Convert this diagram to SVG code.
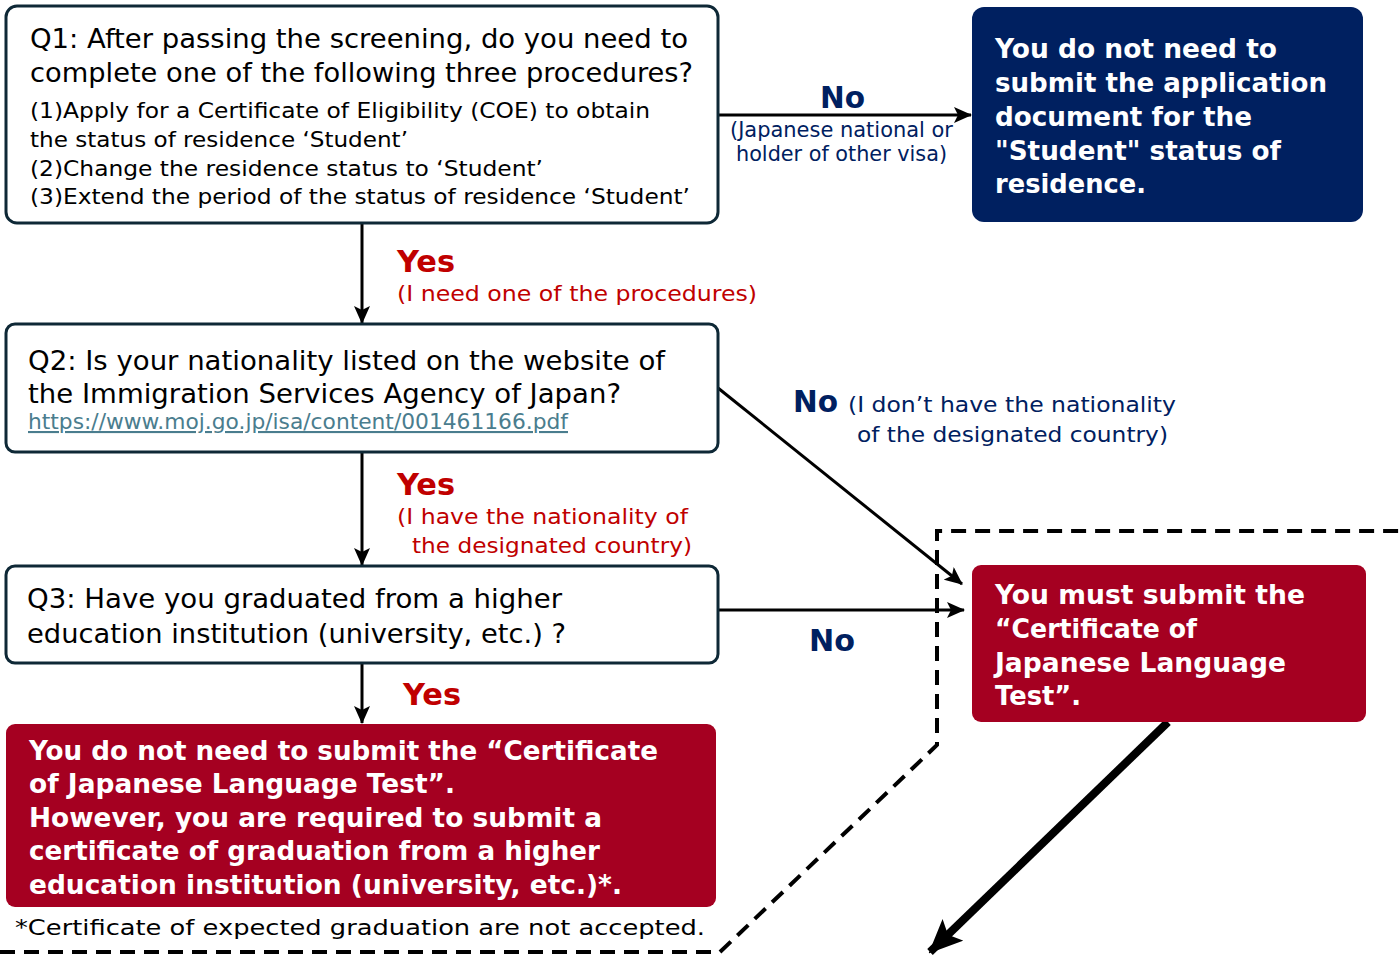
<svg xmlns="http://www.w3.org/2000/svg" width="1400" height="955" viewBox="0 0 1400 955">
<style>
text{font-family:"DejaVu Sans","Liberation Sans",sans-serif}
.q{fill:#fff;stroke:#0e2836;stroke-width:3}
.qt{font-size:27px;fill:#000}
.st{font-size:22px;fill:#000}
.wb{font-size:27px;font-weight:bold;fill:#fff}
.yes{font-size:30px;font-weight:bold;fill:#c00000}
.red{font-size:22px;fill:#c00000}
.no{font-size:30px;font-weight:bold;fill:#002060}
.nav{font-size:22px;fill:#002060}
.ln{stroke:#000;stroke-width:3;fill:none}
</style>
<defs>
<marker id="ah" markerUnits="userSpaceOnUse" markerWidth="18" markerHeight="16" refX="17" refY="8" orient="auto"><path d="M0,0 L18,8 L0,16 L4,8 Z" fill="#000"/></marker>
<marker id="ahb" markerUnits="userSpaceOnUse" markerWidth="34" markerHeight="30" refX="32" refY="15" orient="auto"><path d="M0,0 L34,15 L0,30 L7,15 Z" fill="#000"/></marker>
</defs>

<g id="connectors">
<line class="ln" x1="718" y1="115" x2="971" y2="115" marker-end="url(#ah)"/>
<line class="ln" x1="362" y1="224" x2="362" y2="323" marker-end="url(#ah)"/>
<line class="ln" x1="362" y1="453" x2="362" y2="565" marker-end="url(#ah)"/>
<line class="ln" x1="718" y1="388" x2="962" y2="584" marker-end="url(#ah)"/>
<line class="ln" x1="718" y1="610" x2="964" y2="610" marker-end="url(#ah)"/>
<line class="ln" x1="362" y1="664" x2="362" y2="723" marker-end="url(#ah)"/>
<line stroke="#000" stroke-width="8" x1="1168" y1="722" x2="930" y2="952" marker-end="url(#ahb)"/>
<path d="M0,952 L720,952 L937,745 L937,531 L1400,531" fill="none" stroke="#000" stroke-width="4" stroke-dasharray="15 9"/>
</g>

<g id="labels">
<text class="no" x="820" y="108" textLength="45" lengthAdjust="spacingAndGlyphs">No</text>
<text class="nav" x="730" y="137" textLength="223" lengthAdjust="spacingAndGlyphs">(Japanese national or</text>
<text class="nav" x="736" y="161" textLength="211" lengthAdjust="spacingAndGlyphs">holder of other visa)</text>
<text class="yes" x="397" y="272" textLength="58" lengthAdjust="spacingAndGlyphs">Yes</text>
<text class="red" x="397" y="301" textLength="360" lengthAdjust="spacingAndGlyphs">(I need one of the procedures)</text>
<text class="yes" x="397" y="495" textLength="58" lengthAdjust="spacingAndGlyphs">Yes</text>
<text class="red" x="397" y="524" textLength="291" lengthAdjust="spacingAndGlyphs">(I have the nationality of</text>
<text class="red" x="412" y="553" textLength="280" lengthAdjust="spacingAndGlyphs">the designated country)</text>
<text class="no" x="793" y="412" textLength="45" lengthAdjust="spacingAndGlyphs">No</text>
<text class="nav" x="848" y="412" textLength="328" lengthAdjust="spacingAndGlyphs">(I don’t have the nationality</text>
<text class="nav" x="857" y="442" textLength="311" lengthAdjust="spacingAndGlyphs">of the designated country)</text>
<text class="no" x="809" y="651" textLength="46" lengthAdjust="spacingAndGlyphs">No</text>
<text class="yes" x="403" y="705" textLength="58" lengthAdjust="spacingAndGlyphs">Yes</text>
</g>

<g id="q1">
<rect class="q" x="6" y="6" width="712" height="217" rx="11"/>
<text class="qt" x="30" y="48" textLength="658" lengthAdjust="spacingAndGlyphs">Q1: After passing the screening, do you need to</text>
<text class="qt" x="30" y="82" textLength="663" lengthAdjust="spacingAndGlyphs">complete one of the following three procedures?</text>
<text class="st" x="30" y="118" textLength="620" lengthAdjust="spacingAndGlyphs">(1)Apply for a Certificate of Eligibility (COE) to obtain</text>
<text class="st" x="30" y="147" textLength="378" lengthAdjust="spacingAndGlyphs">the status of residence ‘Student’</text>
<text class="st" x="30" y="176" textLength="513" lengthAdjust="spacingAndGlyphs">(2)Change the residence status to ‘Student’</text>
<text class="st" x="30" y="204" textLength="660" lengthAdjust="spacingAndGlyphs">(3)Extend the period of the status of residence ‘Student’</text>
</g>

<g id="notneeded">
<rect x="972" y="7" width="391" height="215" rx="12" fill="#002060"/>
<text class="wb" x="995" y="58" textLength="282" lengthAdjust="spacingAndGlyphs">You do not need to</text>
<text class="wb" x="995" y="92" textLength="332" lengthAdjust="spacingAndGlyphs">submit the application</text>
<text class="wb" x="995" y="126" textLength="257" lengthAdjust="spacingAndGlyphs">document for the</text>
<text class="wb" x="995" y="160" textLength="286" lengthAdjust="spacingAndGlyphs">"Student" status of</text>
<text class="wb" x="995" y="193" textLength="151" lengthAdjust="spacingAndGlyphs">residence.</text>
</g>

<g id="q2">
<rect class="q" x="6" y="324" width="712" height="128" rx="9"/>
<text class="qt" x="28" y="370" textLength="637" lengthAdjust="spacingAndGlyphs">Q2: Is your nationality listed on the website of</text>
<text class="qt" x="28" y="403" textLength="593" lengthAdjust="spacingAndGlyphs">the Immigration Services Agency of Japan?</text>
<text x="28" y="429" font-size="21" fill="#4a7d8e" text-decoration="underline" textLength="540" lengthAdjust="spacingAndGlyphs">https://www.moj.go.jp/isa/content/001461166.pdf</text>
</g>

<g id="q3">
<rect class="q" x="6" y="566" width="712" height="97" rx="9"/>
<text class="qt" x="27" y="608" textLength="535" lengthAdjust="spacingAndGlyphs">Q3: Have you graduated from a higher</text>
<text class="qt" x="27" y="643" textLength="539" lengthAdjust="spacingAndGlyphs">education institution (university, etc.) ?</text>
</g>

<g id="mustsubmit">
<rect x="972" y="565" width="394" height="157" rx="9" fill="#a50021"/>
<text class="wb" x="995" y="604" textLength="310" lengthAdjust="spacingAndGlyphs">You must submit the</text>
<text class="wb" x="995" y="638" textLength="202" lengthAdjust="spacingAndGlyphs">“Certificate of</text>
<text class="wb" x="995" y="672" textLength="291" lengthAdjust="spacingAndGlyphs">Japanese Language</text>
<text class="wb" x="995" y="705" textLength="86" lengthAdjust="spacingAndGlyphs">Test”.</text>
</g>

<g id="graduate">
<rect x="6" y="724" width="710" height="183" rx="9" fill="#a50021"/>
<text class="wb" x="29" y="760" textLength="629" lengthAdjust="spacingAndGlyphs">You do not need to submit the “Certificate</text>
<text class="wb" x="29" y="793" textLength="426" lengthAdjust="spacingAndGlyphs">of Japanese Language Test”.</text>
<text class="wb" x="29" y="827" textLength="573" lengthAdjust="spacingAndGlyphs">However, you are required to submit a</text>
<text class="wb" x="29" y="860" textLength="571" lengthAdjust="spacingAndGlyphs">certificate of graduation from a higher</text>
<text class="wb" x="29" y="894" textLength="593" lengthAdjust="spacingAndGlyphs">education institution (university, etc.)*.</text>
</g>

<g id="footnote">
<text class="st" x="15" y="935" font-size="23" textLength="690" lengthAdjust="spacingAndGlyphs">*Certificate of expected graduation are not accepted.</text>
</g>
</svg>
